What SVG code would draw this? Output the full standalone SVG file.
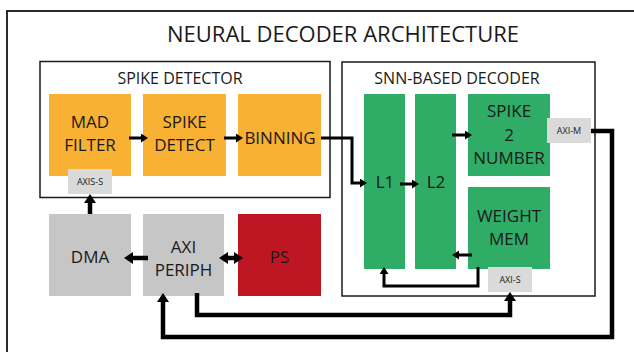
<svg xmlns="http://www.w3.org/2000/svg" width="634" height="352" viewBox="0 0 634 352">
  <style>
    text { font-family: "Open Sans", "Noto Sans", "DejaVu Sans", sans-serif; fill: #1a1a1a; text-anchor: middle; }
    .title { font-size: 22px; }
    .hdr { font-size: 16px; }
    .blk { font-size: 17px; }
    .tag { font-size: 9px; }
    .frame { fill: none; stroke: #2b2b2b; stroke-width: 2; }
    .group { fill: #ffffff; stroke: #1a1a1a; stroke-width: 1.5; }
    .orange { fill: #F8B133; }
    .green { fill: #2FAC66; }
    .gray { fill: #C6C6C6; }
    .red { fill: #BE1622; }
    .label { fill: #DADADA; }
    .c3 { fill: none; stroke: #000; stroke-width: 3; }
    .c5 { fill: none; stroke: #000; stroke-width: 4.5; }
  </style>
  <defs>
    <marker id="ah" markerUnits="userSpaceOnUse" markerWidth="7" markerHeight="9" refX="1" refY="4.5" orient="auto-start-reverse">
      <path d="M0,0 L7,4.5 L0,9 z" fill="#000"/>
    </marker>
    <marker id="ahL" markerUnits="userSpaceOnUse" markerWidth="9" markerHeight="12" refX="1" refY="6" orient="auto-start-reverse">
      <path d="M0,0 L9,6 L0,12 z" fill="#000"/>
    </marker>
  </defs>

  <rect class="frame" x="7" y="11" width="650" height="370"/>
  <text class="title" x="343" y="42">NEURAL DECODER ARCHITECTURE</text>

  <g id="spike-detector">
    <rect class="group" x="40" y="61.5" width="290" height="136"/>
    <text class="hdr" x="180" y="84">SPIKE DETECTOR</text>
  </g>
  <g id="mad-filter">
    <rect class="orange" x="49" y="94" width="82" height="82"/>
    <text class="blk" x="90" y="128">MAD</text>
    <text class="blk" x="90" y="151">FILTER</text>
  </g>
  <g id="spike-detect">
    <rect class="orange" x="143" y="94" width="83" height="82"/>
    <text class="blk" x="184.5" y="128">SPIKE</text>
    <text class="blk" x="184.5" y="151">DETECT</text>
  </g>
  <g id="binning">
    <rect class="orange" x="238" y="94" width="83" height="82"/>
    <text class="blk" x="280" y="144">BINNING</text>
  </g>
  <g id="axis-s">
    <rect class="label" x="68" y="169" width="44" height="25"/>
    <text class="tag" x="90" y="185">AXIS-S</text>
  </g>

  <g id="snn-decoder">
    <rect class="group" x="342" y="62" width="253" height="234"/>
    <text class="hdr" x="457" y="84">SNN-BASED DECODER</text>
  </g>
  <g id="l1">
    <rect class="green" x="364" y="94" width="41" height="175"/>
    <text class="blk" x="385" y="188">L1</text>
  </g>
  <g id="l2">
    <rect class="green" x="415" y="94" width="41" height="175"/>
    <text class="blk" x="436" y="188">L2</text>
  </g>
  <g id="spike2number">
    <rect class="green" x="468" y="94" width="82" height="82"/>
    <text class="blk" x="509" y="117">SPIKE</text>
    <text class="blk" x="509" y="141">2</text>
    <text class="blk" x="509" y="164">NUMBER</text>
  </g>
  <g id="weight-mem">
    <rect class="green" x="468" y="187" width="82" height="82"/>
    <text class="blk" x="509" y="222">WEIGHT</text>
    <text class="blk" x="509" y="245">MEM</text>
  </g>
  <g id="axi-m">
    <rect class="label" x="547" y="118" width="44" height="25"/>
    <text class="tag" x="569" y="134">AXI-M</text>
  </g>
  <g id="axi-s">
    <rect class="label" x="488" y="267" width="44" height="25"/>
    <text class="tag" x="510" y="283">AXI-S</text>
  </g>

  <g id="dma">
    <rect class="gray" x="49" y="214" width="82" height="82"/>
    <text class="blk" x="90" y="263">DMA</text>
  </g>
  <g id="axi-periph">
    <rect class="gray" x="143" y="214" width="81" height="82"/>
    <text class="blk" x="183.5" y="253">AXI</text>
    <text class="blk" x="183.5" y="276">PERIPH</text>
  </g>
  <g id="ps">
    <rect class="red" x="238" y="214" width="83" height="82"/>
    <text class="blk" x="279.5" y="263">PS</text>
  </g>

  <g id="connectors">
    <line class="c3" x1="129" y1="138" x2="142" y2="138" marker-end="url(#ah)"/>
    <line class="c3" x1="224" y1="138" x2="237" y2="138" marker-end="url(#ah)"/>
    <polyline class="c3" points="321,138 352,138 352,183 361,183" marker-end="url(#ah)"/>
    <line class="c3" x1="400" y1="184" x2="413" y2="184" marker-end="url(#ah)"/>
    <line class="c3" x1="452" y1="135" x2="466" y2="135" marker-end="url(#ah)"/>
    <line class="c3" x1="472" y1="255" x2="458" y2="255" marker-end="url(#ah)"/>
    <polyline class="c3" points="478,267 478,286 384,286 384,273" marker-end="url(#ah)"/>
    <line class="c5" x1="90" y1="214" x2="90" y2="202" marker-end="url(#ahL)"/>
    <line class="c5" x1="148" y1="258" x2="132" y2="258" marker-end="url(#ahL)"/>
    <line class="c5" x1="227" y1="258" x2="235" y2="258" marker-start="url(#ahL)" marker-end="url(#ahL)"/>
    <polyline class="c5" points="591,131 612,131 612,337 163,337 163,301" marker-end="url(#ahL)"/>
    <polyline class="c5" points="197,293 197,315 510,315 510,300" marker-end="url(#ahL)"/>
  </g>
</svg>
